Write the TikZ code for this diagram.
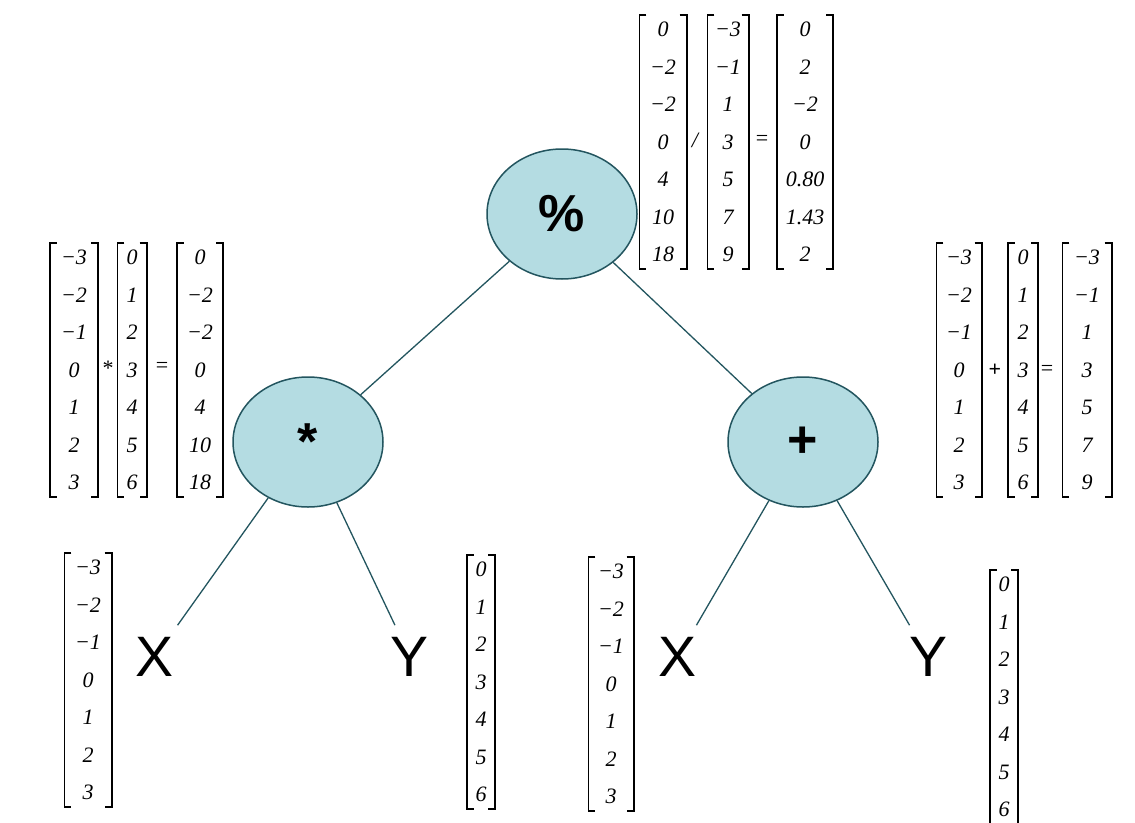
\documentclass[tikz,border=0pt]{standalone}
\usepackage{fontspec}
\setmainfont{Liberation Serif}
\setsansfont{Liberation Sans}
\usepackage{tikz}
\usetikzlibrary{shapes.geometric}
\definecolor{opfill}{RGB}{180,220,226}
\definecolor{opline}{RGB}{35,85,95}
\tikzset{
  font={\fontsize{22pt}{37.5pt}\selectfont\itshape}}
\tikzset{
  op/.style={ellipse, draw=opline, line width=1.5pt, fill=opfill,
    minimum width=150pt, minimum height=130pt,
    font={\sffamily\bfseries\fontsize{52pt}{52pt}\selectfont}},
  leaf/.style={inner sep=12pt, font={\sffamily\fontsize{57pt}{57pt}\selectfont}},
  vec/.style={align=center, inner xsep=0pt, inner ysep=7pt},
  sym/.style={inner sep=0pt, font={\fontsize{22pt}{22pt}\selectfont}},
  edge/.style={draw=opline, line width=1.3pt},
  brk/.style={black, line width=1.6pt}}
\newcommand{\brackets}[1]{
\draw [brk] ([xshift=7pt]#1.north west) -- (#1.north west) -- (#1.south west) -- ([xshift=7pt]#1.south west);
\draw [brk] ([xshift=-7pt]#1.north east) -- (#1.north east) -- (#1.south east) -- ([xshift=-7pt]#1.south east);}

\begin{document}
\begin{tikzpicture}[x=1pt,y=-1pt]
\fill [white] (0,0) rectangle (1135,822);
\useasboundingbox (0,0) rectangle (1135,822);
\node [op] (div) at (562,214) {\%};
\node [op] (mul) at (308,442) {*};
\node [op] (add) at (803,442) {+};
\node [leaf] (xa) at (155,657) {X};
\node [leaf] (ya) at (410,657) {Y};
\node [leaf] (xb) at (678,657) {X};
\node [leaf] (yb) at (928,657) {Y};
\draw [edge] (div) -- (mul);
\draw [edge] (div) -- (add);
\draw [edge] (mul) -- (xa);
\draw [edge] (mul) -- (ya);
\draw [edge] (add) -- (xb);
\draw [edge] (add) -- (yb);
% top: division
\node [vec, minimum width=47pt] (diva) at (663,142) {0\\−2\\−2\\0\\4\\10\\18};
\node [vec, minimum width=41pt] (divb) at (728,142) {−3\\−1\\1\\3\\5\\7\\9};
\node [vec, minimum width=56pt] (divc) at (805,142) {0\\2\\−2\\0\\0.80\\1.43\\2};
\node [sym] (divop) at (695,140) {\itshape /};
\node [sym] (diveq) at (762,140) {=};
\brackets{diva} \brackets{divb} \brackets{divc}
% left: product
\node [vec, minimum width=48pt] (mula) at (74,370) {−3\\−2\\−1\\0\\1\\2\\3};
\node [vec, minimum width=29pt] (mulb) at (132,370) {0\\1\\2\\3\\4\\5\\6};
\node [vec, minimum width=46pt] (mulc) at (200,370) {0\\−2\\−2\\0\\4\\10\\18};
\node [sym] (mulop) at (108,368) {*};
\node [sym] (muleq) at (162,367) {=};
\brackets{mula} \brackets{mulb} \brackets{mulc}
% right: sum
\node [vec, minimum width=45pt] (adda) at (959,370) {−3\\−2\\−1\\0\\1\\2\\3};
\node [vec, minimum width=30pt] (addb) at (1023,370) {0\\1\\2\\3\\4\\5\\6};
\node [vec, minimum width=49pt] (addc) at (1087,370) {−3\\−1\\1\\3\\5\\7\\9};
\node [sym] (addop) at (995,370) {\bfseries +};
\node [sym] (addeq) at (1047,370) {=};
\brackets{adda} \brackets{addb} \brackets{addc}
% leaves
\node [vec, minimum width=47pt] (xav) at (88,680) {−3\\−2\\−1\\0\\1\\2\\3};
\node [vec, minimum width=28pt] (yav) at (481,682) {0\\1\\2\\3\\4\\5\\6};
\node [vec, minimum width=45pt] (xbv) at (611,684) {−3\\−2\\−1\\0\\1\\2\\3};
\node [vec, minimum width=28pt] (ybv) at (1004,697) {0\\1\\2\\3\\4\\5\\6};
\brackets{xav} \brackets{yav} \brackets{xbv} \brackets{ybv}
\end{tikzpicture}
\end{document}
